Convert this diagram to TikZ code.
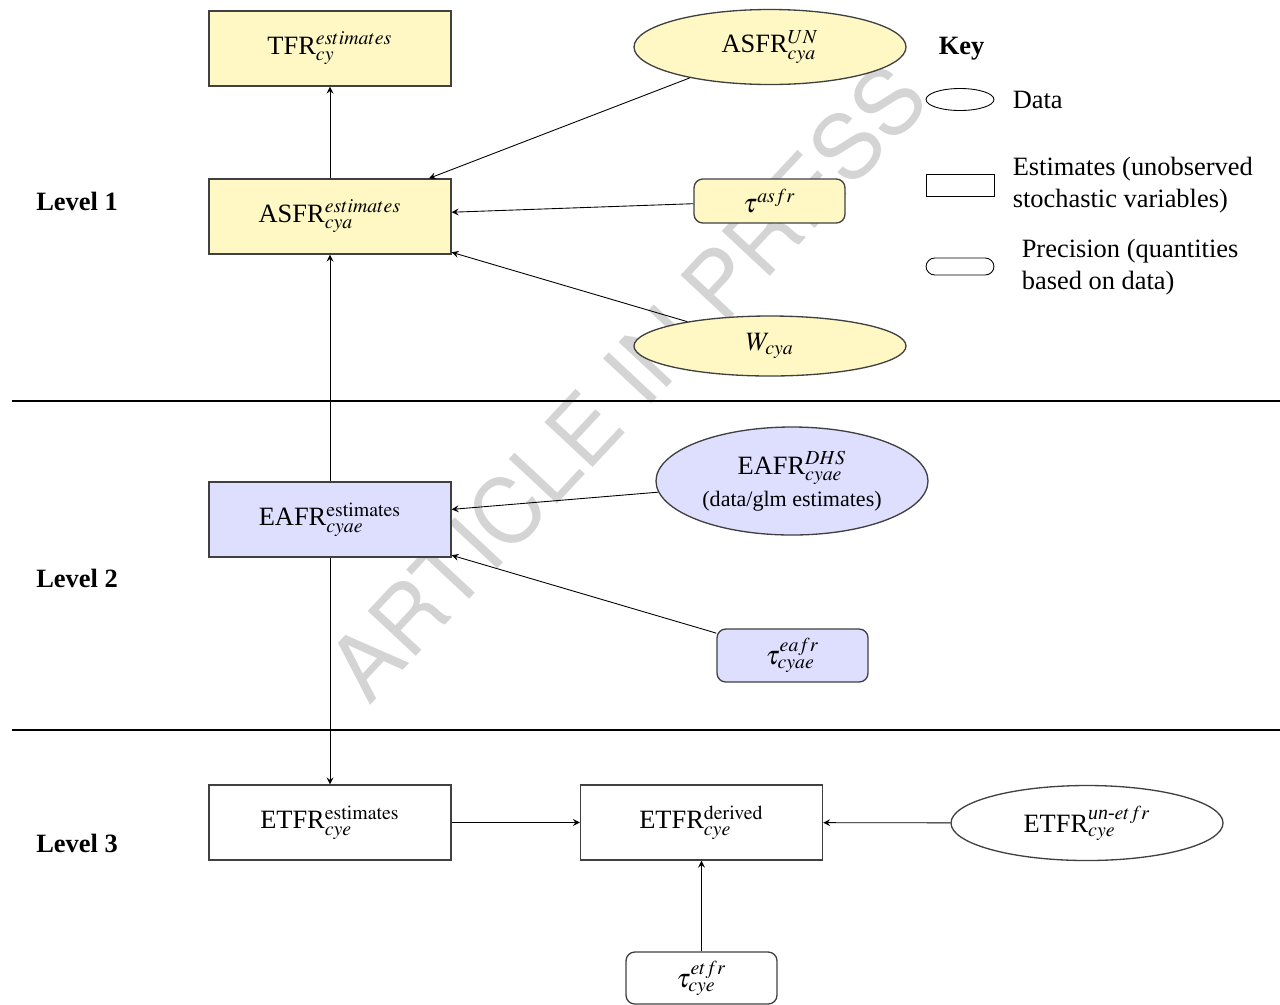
\documentclass[tikz,border=0pt]{standalone}
\usepackage{amsmath}
\usepackage{mathptmx}
\usepackage[no-math]{fontspec}
\setmainfont{Liberation Serif}
\newfontfamily\wmfont{TeX Gyre Heros}
\usetikzlibrary{shapes.geometric}
\definecolor{asfrfill}{RGB}{255,248,196}
\definecolor{eafrfill}{RGB}{222,222,255}

\begin{document}
\begin{tikzpicture}[x=0.454pt,y=-0.454pt]
  \def\px{0.454pt}
  \tikzset{every node/.style={font=\fontsize{12}{14.5}\selectfont}}
  \tikzset{estbox/.style={draw=black!75,line width=0.6pt,minimum width=242*\px,minimum height=75*\px}}
  \tikzset{datanode/.style={draw=black!75,line width=0.6pt,ellipse,minimum width=272*\px,minimum height=75*\px,inner sep=0pt}}
  \tikzset{precbox/.style={draw=black!75,line width=0.6pt,rounded corners=4pt,minimum width=151*\px,minimum height=44*\px}}
  \tikzset{link/.style={->,>=stealth}}
  \tikzset{sepline/.style={line width=0.8pt}}
  \useasboundingbox (0,0) rectangle (1280,1004);
  \node[font=\wmfont\fontsize{41}{41}\selectfont,text=black!17,rotate=47] (watermark) at (627,382) {ARTICLE IN PRESS};
  % level 1
  \node[estbox,fill=asfrfill] (tfrEst) at (330,48.5) {TFR$^{estimates}_{cy}$};
  \node[estbox,fill=asfrfill] (asfrEst) at (330,216.5) {ASFR$^{estimates}_{cya}$};
  \node[datanode,fill=asfrfill] (asfrUN) at (770,47) {ASFR$^{UN}_{cya}$};
  \node[precbox,fill=asfrfill] (tauAsfr) at (769.5,201) {$\tau^{asfr}$};
  \node[datanode,fill=asfrfill,minimum height=60*\px] (wCya) at (770,346) {$W_{cya}$};
  % level 2
  \node[estbox,fill=eafrfill] (eafrEst) at (330,519.5) {EAFR$^{\mathrm{estimates}}_{cyae}$};
  \node[datanode,fill=eafrfill,minimum height=108*\px,align=center] (eafrDHS) at (792,481) {EAFR$^{DHS}_{cyae}$\\{\fontsize{10}{12}\selectfont (data/glm estimates)}};
  \node[precbox,fill=eafrfill,minimum height=53*\px] (tauEafr) at (792.5,655.5) {$\tau^{eafr}_{cyae}$};
  % level 3
  \node[estbox] (etfrEst) at (330,822.5) {ETFR$^{\mathrm{estimates}}_{cye}$};
  \node[estbox] (etfrDer) at (701.5,822.5) {ETFR$^{\mathrm{derived}}_{cye}$};
  \node[datanode] (etfrUN) at (1087,823) {ETFR$^{\textit{un-}etfr}_{cye}$};
  \node[precbox,minimum height=52*\px] (tauEtfr) at (701.5,978) {$\tau^{etfr}_{cye}$};
  % levels
  \node[font=\fontsize{12}{14.5}\selectfont\bfseries] (lev1) at (77,201) {Level 1};
  \node[font=\fontsize{12}{14.5}\selectfont\bfseries] (lev2) at (77,578) {Level 2};
  \node[font=\fontsize{12}{14.5}\selectfont\bfseries] (lev3) at (77,843) {Level 3};
  \coordinate (sepA) at (12,401);
  \coordinate (sepB) at (12,730);
  \draw[sepline] (sepA) -- (1280,401);
  \draw[sepline] (sepB) -- (1280,730);
  % key
  \node[font=\fontsize{12}{14.5}\selectfont\bfseries,anchor=west] (key) at (931,49) {Key};
  \node[draw,ellipse,minimum width=68*\px,minimum height=22*\px,inner sep=0pt] (keyData) at (960,99.5) {};
  \node[anchor=west] (keyDataTxt) at (1005,100) {Data};
  \node[draw,minimum width=68*\px,minimum height=22*\px,inner sep=0pt] (keyEst) at (960,185) {};
  \node[anchor=west,align=left] (keyEstTxt) at (1005,185) {Estimates (unobserved\\stochastic variables)};
  \node[draw,rounded corners=4pt,minimum width=68*\px,minimum height=17*\px,inner sep=0pt] (keyPrec) at (960,266.5) {};
  \node[anchor=west,align=left] (keyPrecTxt) at (1014,267) {Precision (quantities\\based on data)};
  % arrows
  \draw[link] (asfrEst) -- (tfrEst);
  \draw[link] (asfrUN) -- (asfrEst);
  \draw[link] (tauAsfr) -- (asfrEst);
  \draw[link] (wCya) -- (asfrEst);
  \draw[link] (eafrEst) -- (asfrEst);
  \draw[link] (eafrDHS) -- (eafrEst);
  \draw[link] (tauEafr) -- (eafrEst);
  \draw[link] (eafrEst) -- (etfrEst);
  \draw[link] (etfrEst) -- (etfrDer);
  \draw[link] (etfrUN) -- (etfrDer);
  \draw[link] (tauEtfr) -- (etfrDer);
\end{tikzpicture}
\end{document}
